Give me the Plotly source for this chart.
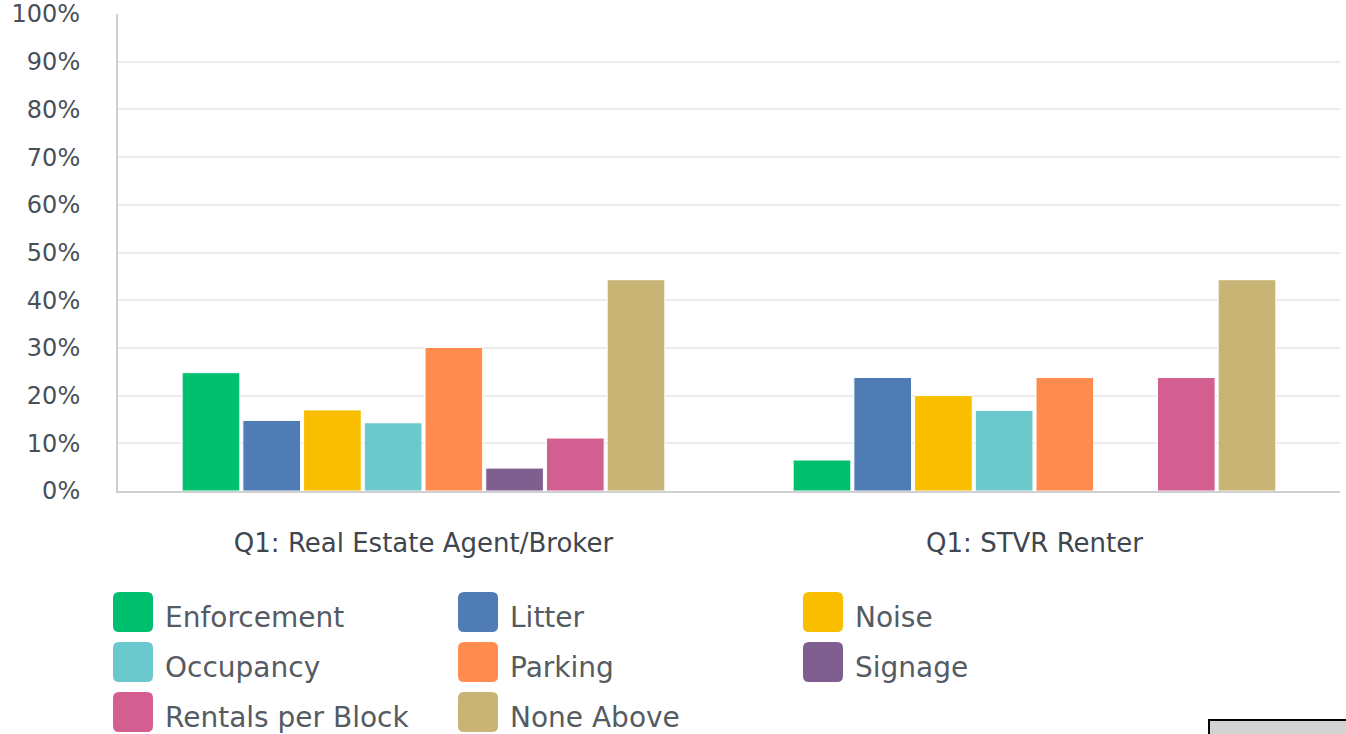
import plotly.graph_objects as go

groups = ['Q1: Real Estate Agent/Broker', 'Q1: STVR Renter']
series_names = ['Enforcement', 'Litter', 'Noise', 'Occupancy', 'Parking',
                'Signage', 'Rentals per Block', 'None Above']
series_colors = ['#00bf6f', '#507cb6', '#f9be00', '#6bc8cd', '#ff8b4f',
                 '#7f5f90', '#d25f90', '#c8b475']
agent_values = [0.248, 0.148, 0.170, 0.143, 0.301, 0.048, 0.111, 0.443]
renter_values = [0.065, 0.238, 0.200, 0.169, 0.238, 0.0, 0.238, 0.443]
y_ticks = [i / 10 for i in range(11)]

W, H = 1346, 734
L, R, T, B = 118, 6, 14, 243
pw, ph = W - L - R, H - T - B
FONT = 'DejaVu Sans'


# helpers: window pixels -> paper coords
def px(x):
    return (x - L) / pw


def py(y):
    return (H - B - y) / ph


def rounded_box(x0, y0, size, r):
    # rounded square as an svg path in paper coords
    x1, y1 = x0 + size, y0 + size
    pts = [
        f"M {px(x0 + r)} {py(y0)}",
        f"L {px(x1 - r)} {py(y0)}",
        f"Q {px(x1)} {py(y0)} {px(x1)} {py(y0 + r)}",
        f"L {px(x1)} {py(y1 - r)}",
        f"Q {px(x1)} {py(y1)} {px(x1 - r)} {py(y1)}",
        f"L {px(x0 + r)} {py(y1)}",
        f"Q {px(x0)} {py(y1)} {px(x0)} {py(y1 - r)}",
        f"L {px(x0)} {py(y0 + r)}",
        f"Q {px(x0)} {py(y0)} {px(x0 + r)} {py(y0)} Z",
    ]
    return " ".join(pts)


fig = go.Figure()
for i, name in enumerate(series_names):
    fig.add_trace(go.Bar(x=groups, y=[agent_values[i], renter_values[i]],
                         name=name,
                         marker=dict(color=series_colors[i],
                                     line=dict(color='white', width=1))))

# custom legend (3 columns) drawn with shapes + annotations
shapes = []
annotations = []
for i, name in enumerate(series_names):
    col, row = i % 3, i // 3
    x0 = 113 + col * 345
    y0 = 592 + row * 50
    shapes.append(dict(type='path', xref='paper', yref='paper',
                       path=rounded_box(x0, y0, 40, 6),
                       fillcolor=series_colors[i], line=dict(width=0),
                       layer='above'))
    annotations.append(dict(text=name, xref='paper', yref='paper',
                            x=px(x0 + 50), y=py(y0 + 25), xanchor='left',
                            yanchor='middle', showarrow=False,
                            font=dict(family=FONT, size=28, color='#555b62')))

# grey box in the bottom right corner
shapes.append(dict(type='rect', xref='paper', yref='paper',
                   x0=px(1209), x1=px(1350), y0=py(745), y1=py(720),
                   fillcolor='#d3d3d3', line=dict(color='black', width=2)))

fig.update_layout(
    width=W, height=H,
    margin=dict(l=L, r=R, t=T, b=B, autoexpand=False),
    barmode='group', bargap=0.205, bargroupgap=0.05,
    showlegend=False,
    plot_bgcolor='white', paper_bgcolor='white',
    font=dict(family=FONT, color='#4a5058'),
    shapes=shapes, annotations=annotations,
)
fig.update_xaxes(showline=True, linecolor='#d0d0d0', linewidth=2,
                 tickfont=dict(family=FONT, size=26, color='#3f464e'),
                 ticklabelstandoff=28, ticks='', automargin=False)
fig.update_yaxes(range=[0, 1], tickvals=y_ticks, tickformat='.0%',
                 showline=True, linecolor='#d0d0d0', linewidth=2,
                 gridcolor='#ececec', gridwidth=2, zeroline=False,
                 tickfont=dict(family=FONT, size=24, color='#4a5058'),
                 ticklabelstandoff=31, ticks='', automargin=False,
                 ticklabeloverflow='allow')

# drop the default 8px body margin so the figure fills the window
fig.write_html("out.html", config={'displayModeBar': False},
               post_script="document.body.style.margin='0';")
